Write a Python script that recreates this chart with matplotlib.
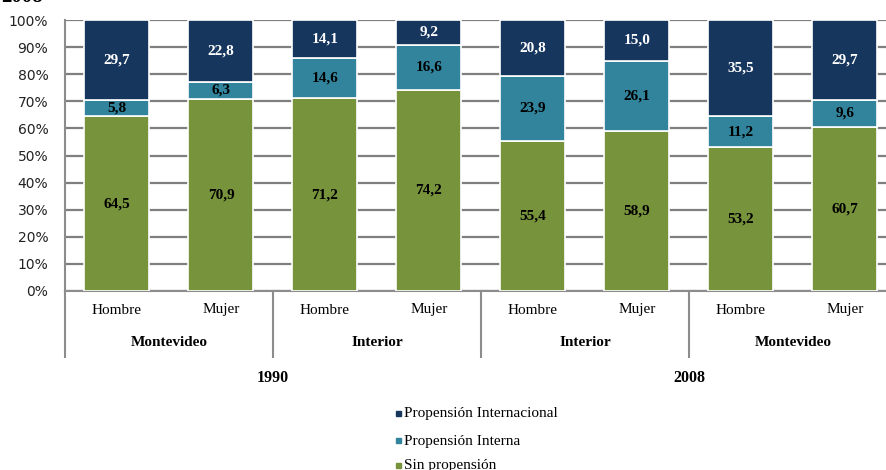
import numpy as np
import matplotlib
matplotlib.use('Agg')
import matplotlib.pyplot as plt
from matplotlib.lines import Line2D

# data
sexo = ['Hombre', 'Mujer', 'Hombre', 'Mujer', 'Hombre', 'Mujer', 'Hombre', 'Mujer']
region = ['Montevideo', 'Interior', 'Interior', 'Montevideo']
anios = ['1990', '2008']
sin_prop = [64.5, 70.9, 71.2, 74.2, 55.4, 58.9, 53.2, 60.7]
prop_interna = [5.8, 6.3, 14.6, 16.6, 23.9, 26.1, 11.2, 9.6]
prop_internac = [29.7, 22.8, 14.1, 9.2, 20.8, 15.0, 35.5, 29.7]
series = ['Propensión Internacional', 'Propensión Interna', 'Sin propensión']

c_int = '#17365D'
c_interna = '#31849B'
c_sin = '#77933C'
grisl = '#8c8c8c'
serif = ['Liberation Serif', 'DejaVu Serif']

W, H = 887, 470
fig = plt.figure(figsize=(W/100, H/100), dpi=100)
# plot area: left axis at x=65px, baseline y=291px, top y=20px; right runs past the image
x0, yb, yt = 65, 291, 20
step = 104.0
xright = x0 + step*8
ax = fig.add_axes([x0/W, 1-yb/H, (xright-x0)/W, (yb-yt)/H])

x = np.arange(len(sexo))
w = 65/step
b1 = ax.bar(x, sin_prop, w, color=c_sin, edgecolor='white', linewidth=1.2, zorder=3)
b2 = ax.bar(x, prop_interna, w, bottom=sin_prop, color=c_interna,
            edgecolor='white', linewidth=1.2, zorder=3)
bot3 = np.array(sin_prop) + np.array(prop_interna)
b3 = ax.bar(x, prop_internac, w, bottom=bot3, color=c_int,
            edgecolor='white', linewidth=1.2, zorder=3)

def fmt(v):
    return ('%.1f' % v).replace('.', ',')

for i in range(len(x)):
    ax.text(x[i], sin_prop[i]/2, fmt(sin_prop[i]), ha='center', va='center',
            fontsize=11, fontweight='bold', family=serif, color='black', zorder=4)
    ax.text(x[i], sin_prop[i] + prop_interna[i]/2, fmt(prop_interna[i]), ha='center',
            va='center', fontsize=11, fontweight='bold', family=serif, color='black', zorder=4)
    ax.text(x[i], bot3[i] + prop_internac[i]/2, fmt(prop_internac[i]), ha='center',
            va='center', fontsize=11, fontweight='bold', family=serif, color='white', zorder=4)

ax.set_xlim(-0.5, 7.5)
ax.set_ylim(0, 100)
ax.set_yticks(np.arange(0, 101, 10))
ax.set_yticklabels(['%d%%' % v for v in range(0, 101, 10)], fontsize=10, color='#222222')
ax.yaxis.grid(True, color='#7f7f7f', linewidth=1.6, zorder=0)
ax.set_axisbelow(True)
ax.tick_params(axis='y', length=0, pad=12)
ax.set_xticks([])
for s in ['top', 'right']:
    ax.spines[s].set_visible(False)
ax.spines['left'].set_color(grisl)
ax.spines['left'].set_linewidth(1.5)
ax.spines['bottom'].set_color(grisl)
ax.spines['bottom'].set_linewidth(1.5)

# multi-level category axis
tr = ax.get_xaxis_transform()
hpx = yb - yt
for xs in [-0.5, 1.5, 3.5, 5.5, 7.5]:
    ax.add_line(Line2D([xs, xs], [0, -(357-yb)/hpx], transform=tr, color=grisl,
                       linewidth=1.5, clip_on=False))
for i, s in enumerate(sexo):
    ax.text(x[i], -(310-yb)/hpx, s, transform=tr, ha='center', va='center',
            fontsize=11, family=serif, color='black')
for j, r in enumerate(region):
    ax.text(2*j + 0.5, -(342-yb)/hpx, r, transform=tr, ha='center', va='center',
            fontsize=11, fontweight='bold', family=serif, color='black')
for k, a in enumerate(anios):
    ax.text(4*k + 1.5, -(378-yb)/hpx, a, transform=tr, ha='center', va='center',
            fontsize=11.5, fontweight='bold', family=serif, color='black')

# legend, stacked vertically below the chart
cols = [c_int, c_interna, c_sin]
ys = [414, 441, 466]
for lab, c, yy in zip(series, cols, ys):
    fig.patches.append(plt.Rectangle((396/W, 1-(yy+2)/H), 5/W, 5/H,
                                     transform=fig.transFigure, color=c))
    fig.text(404/W, 1-yy/H, lab, ha='left', va='center', fontsize=11,
             family=serif, color='black')

# title cut off at the top of the source image
fig.text(1/W, 1-2/H, '2008', ha='left', va='baseline', fontsize=15,
         fontweight='bold', family=serif, color='black')

fig.savefig('out.png', dpi=100)
